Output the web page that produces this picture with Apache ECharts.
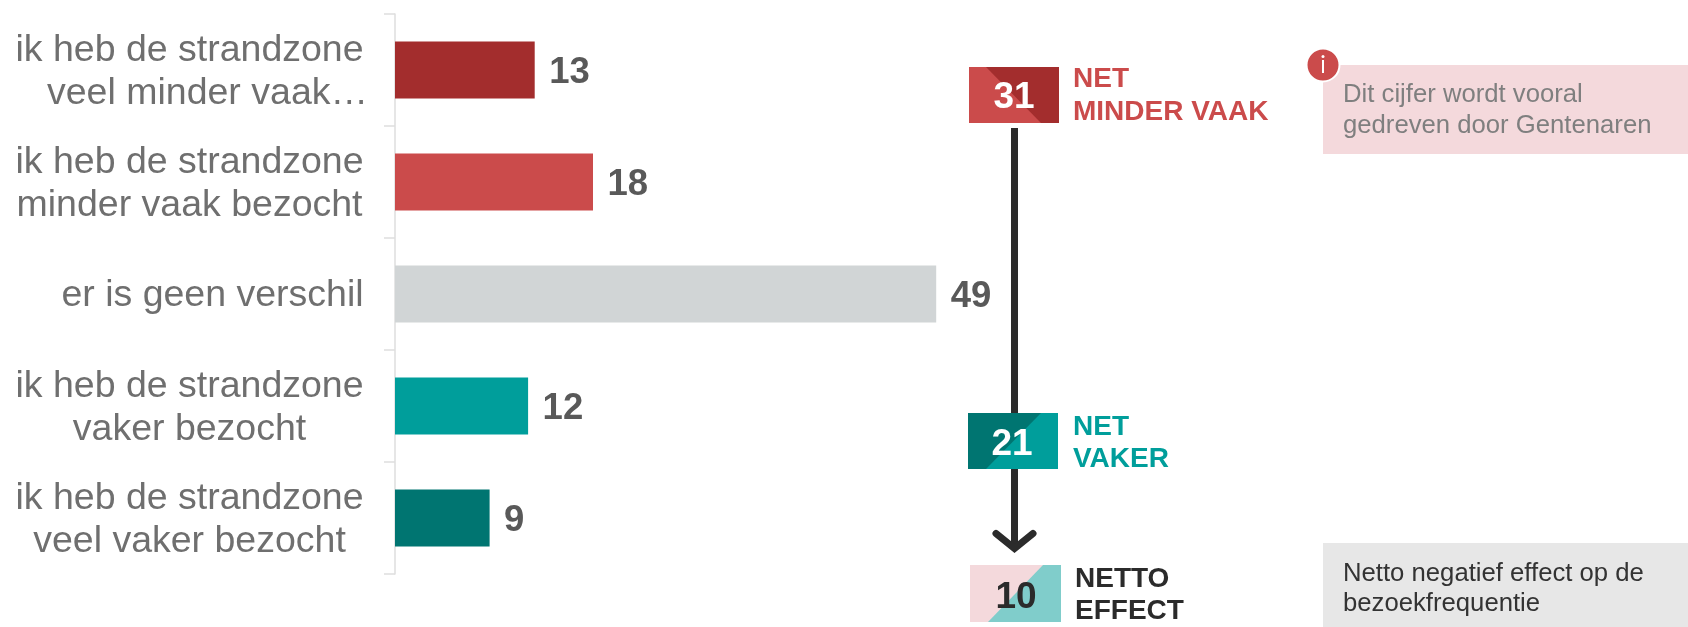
<!DOCTYPE html>
<html>
<head>
<meta charset="utf-8">
<style>html,body{margin:0;padding:0;background:#fff}#c{width:1688px;height:627px}</style>
<script src="https://cdn.jsdelivr.net/npm/echarts@6/dist/echarts.min.js"></script>
</head>
<body>
<div id="c"></div>
<script>
const categories = [
  'ik heb de strandzone\nveel minder vaak…',
  'ik heb de strandzone\nminder vaak bezocht',
  'er is geen verschil',
  'ik heb de strandzone\nvaker bezocht',
  'ik heb de strandzone\nveel vaker bezocht'
];
const values = [12.7, 18, 49.2, 12.1, 8.6];
const barColors = ['#A32D2D', '#CB4B4B', '#D1D5D6', '#009E9B', '#007571'];
const netLess = 31, netMore = 21, netEffect = 10;
const netLessLabel = ['NET', 'MINDER VAAK'];
const netMoreLabel = ['NET', 'VAKER'];
const netEffectLabel = ['NETTO', 'EFFECT'];
const noteTop = ['Dit cijfer wordt vooral', 'gedreven door Gentenaren'];
const noteBottom = ['Netto negatief effect op de', 'bezoekfrequentie'];

const FONT = '"Liberation Sans", Arial, sans-serif';
function txt(text, x, y, size, color, bold, align) {
  return {type:'text', z:10, style:{text:String(text), x, y, fill:color, align:align||'left', verticalAlign:'middle',
    font:(bold?'bold ':'')+size+'px '+FONT}};
}
function poly(points, fill) {
  return {type:'polygon', shape:{points}, style:{fill}};
}
const graphics = [
  // arrow
  {type:'line', shape:{x1:1014.5,y1:128,x2:1014.5,y2:548}, style:{stroke:'#2B2B2B',lineWidth:7}},
  {type:'polyline', shape:{points:[[996,533.5],[1014.5,548.5],[1033,533.5]]}, style:{stroke:'#2B2B2B',lineWidth:7,lineCap:'round',lineJoin:'miter',fill:null}},
  // box 31
  poly([[969,67],[1059,67],[1059,123],[969,123]], '#CB4B4B'),
  poly([[986,67],[1059,67],[1059,123],[1041,123]], '#A32D2D'),
  txt(netLess, 1014, 98, 37, '#fff', true, 'center'),
  txt(netLessLabel[0], 1073, 79, 28, '#CB4B4B', true),
  txt(netLessLabel[1], 1073, 112, 28, '#CB4B4B', true),
  // box 21
  poly([[968,413],[1058,413],[1058,469],[968,469]], '#009E9B'),
  poly([[968,413],[1041,413],[986,469],[968,469]], '#007571'),
  txt(netMore, 1012, 445, 37, '#fff', true, 'center'),
  txt(netMoreLabel[0], 1073, 427, 28, '#009E9B', true),
  txt(netMoreLabel[1], 1073, 459, 28, '#009E9B', true),
  // box 10
  poly([[970,565],[1061,565],[1061,622],[970,622]], '#80CDCB'),
  poly([[970,565],[1043,565],[988,622],[970,622]], '#F4D9DC'),
  txt(netEffect, 1016, 598, 37, '#2B2B2B', true, 'center'),
  txt(netEffectLabel[0], 1075, 579, 28, '#2B2B2B', true),
  txt(netEffectLabel[1], 1075, 611, 28, '#2B2B2B', true),
  // note top
  {type:'rect', shape:{x:1323,y:65,width:365,height:89}, style:{fill:'#F4D9DC'}},
  {type:'circle', z:5, shape:{cx:1323,cy:65,r:16.5}, style:{fill:'#CB4B4B',stroke:'#fff',lineWidth:2}},
  {type:'rect', z:6, shape:{x:1322,y:60,width:2,height:13}, style:{fill:'#fff'}},
  {type:'circle', z:6, shape:{cx:1323,cy:56.5,r:1.5}, style:{fill:'#fff'}},
  txt(noteTop[0], 1343, 95, 25.7, '#7F7F7F'),
  txt(noteTop[1], 1343, 126, 25.7, '#7F7F7F'),
  // note bottom
  {type:'rect', shape:{x:1323,y:543,width:365,height:84}, style:{fill:'#E7E7E7'}},
  txt(noteBottom[0], 1343, 573.5, 25.7, '#333333'),
  txt(noteBottom[1], 1343, 604, 25.7, '#333333')
];

const chart = echarts.init(document.getElementById('c'), null, {renderer:'canvas'});
chart.setOption({
  animation:false,
  backgroundColor:'#fff',
  grid:{left:395, top:14, width:550, height:560, containLabel:false},
  xAxis:{type:'value', min:0, max:50, show:false},
  yAxis:{
    type:'category', inverse:true, data:categories,
    axisLine:{show:true, lineStyle:{color:'#DEDEDE', width:1.5}},
    axisTick:{show:true, length:11, lineStyle:{color:'#DEDEDE', width:1.5}},
    axisLabel:{
      interval:0, margin:205.5, align:'center', hideOverlap:false, padding:[4,0,0,0],
      formatter:function(v){
        const lines = v.split('\n');
        if (lines.length === 1) return '{shift1|'+v+'}';
        if (lines[1].endsWith('…')) return '{p|'+lines[0]+'}\n{shift2|'+lines[1]+'}';
        return '{p|'+lines[0]+'}\n{p|'+lines[1]+'}';
      },
      rich:{
        p:{fontFamily:FONT, fontSize:37.5, color:'#6F6F6F', lineHeight:43},
        shift1:{fontFamily:FONT, fontSize:37.5, color:'#6F6F6F', lineHeight:43, padding:[0,0,0,46]},
        shift2:{fontFamily:FONT, fontSize:37.5, color:'#6F6F6F', lineHeight:43, padding:[0,0,0,36]}
      }
    }
  },
  series:[{
    type:'bar', barWidth:57,
    data:values.map((v,i)=>({value:v, itemStyle:{color:barColors[i]}})),
    label:{show:true, position:'right', distance:14.5, offset:[0,3], formatter:p=>Math.round(p.value),
      fontFamily:FONT, fontWeight:'bold', fontSize:36.5, color:'#595959'}
  }],
  graphic:{elements:graphics}
});
</script>
</body>
</html>
